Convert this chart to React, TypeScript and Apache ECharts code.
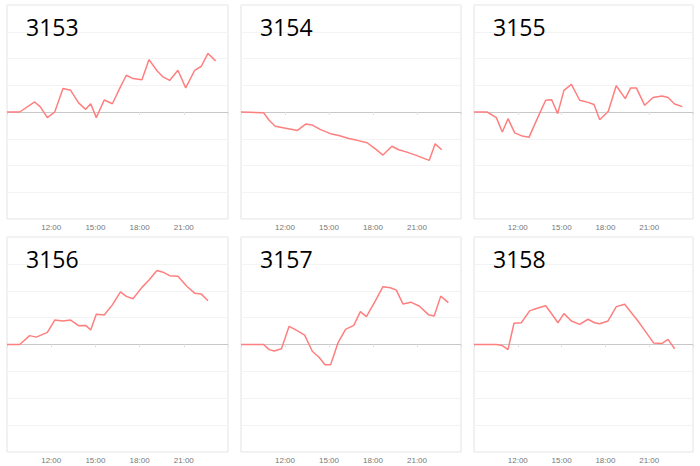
import React, { useEffect, useRef } from "react";
import * as echarts from "echarts";

const panelNames = ["3153", "3154", "3155", "3156", "3157", "3158"];

// hours since midnight for each reading, and the change values
const hours3153 = [9, 9.86, 10.88, 11.26, 11.74, 12.24, 12.8, 13.32, 13.86, 14.34, 14.68, 15.06, 15.6, 16.15, 16.7, 17.1, 17.55, 18.16, 18.64, 19.18, 19.59, 20.04, 20.6, 21.13, 21.74, 22.19, 22.64, 23.16];
const values3153 = [0, 0, 0.375, 0.19, -0.21, 0, 0.875, 0.81, 0.34, 0.1, 0.31, -0.21, 0.45, 0.31, 0.94, 1.375, 1.25, 1.21, 1.96, 1.54, 1.31, 1.18, 1.56, 0.9, 1.56, 1.71, 2.19, 1.91];

const hours3154 = [9, 10.54, 10.92, 11.33, 12.85, 13.41, 13.86, 14.43, 15.1, 15.67, 16.35, 16.92, 17.6, 18.16, 18.68, 19.29, 19.75, 20.31, 20.99, 21.83, 22.24, 22.69];
const values3154 = [0, -0.03, -0.31, -0.53, -0.69, -0.45, -0.49, -0.66, -0.81, -0.88, -0.99, -1.06, -1.15, -1.38, -1.61, -1.28, -1.41, -1.5, -1.63, -1.81, -1.19, -1.41];

const hours3155 = [9, 9.89, 10.53, 10.94, 11.33, 11.79, 12.31, 12.77, 13.38, 13.91, 14.32, 14.73, 15.16, 15.67, 16.24, 16.81, 17.22, 17.61, 18.2, 18.74, 19.36, 19.73, 20.12, 20.69, 21.26, 21.88, 22.29, 22.74, 23.27];
const values3155 = [0, 0, -0.21, -0.75, -0.25, -0.78, -0.9, -0.94, -0.19, 0.44, 0.46, -0.06, 0.81, 1.03, 0.44, 0.36, 0.28, -0.29, 0.03, 0.98, 0.5, 0.9, 0.9, 0.25, 0.54, 0.6, 0.54, 0.3, 0.2];

const hours3156 = [9, 9.86, 10.54, 10.99, 11.74, 12.24, 12.8, 13.32, 13.86, 14.34, 14.68, 15.06, 15.6, 16.15, 16.7, 17.1, 17.55, 18.16, 18.64, 19.18, 19.59, 20.04, 20.6, 21.22, 21.74, 22.19, 22.64];
const values3156 = [0, 0, 0.33, 0.275, 0.45, 0.91, 0.875, 0.91, 0.7, 0.71, 0.54, 1.125, 1.1, 1.475, 1.96, 1.79, 1.7, 2.125, 2.4, 2.75, 2.69, 2.56, 2.54, 2.16, 1.91, 1.875, 1.625];

const hours3157 = [9, 10.54, 10.92, 11.26, 11.76, 12.28, 12.8, 13.34, 13.86, 14.32, 14.73, 15.11, 15.61, 16.13, 16.69, 17.14, 17.55, 18.16, 18.68, 19.18, 19.59, 20.04, 20.58, 21.17, 21.78, 22.17, 22.62, 23.14];
const values3157 = [0, 0, -0.19, -0.24, -0.16, 0.675, 0.525, 0.35, -0.25, -0.475, -0.75, -0.75, 0.06, 0.56, 0.71, 1.225, 1.04, 1.625, 2.15, 2.11, 2.025, 1.51, 1.575, 1.425, 1.11, 1.06, 1.8, 1.56];

const hours3158 = [9, 10.53, 10.94, 11.33, 11.74, 12.24, 12.81, 13.32, 13.91, 14.34, 14.75, 15.16, 15.67, 16.24, 16.81, 17.26, 17.61, 18.18, 18.75, 19.32, 19.71, 20.23, 20.8, 21.3, 21.88, 22.29, 22.74];
const values3158 = [0, 0, -0.04, -0.19, 0.79, 0.81, 1.25, 1.35, 1.44, 1.125, 0.81, 1.15, 0.875, 0.75, 0.94, 0.81, 0.775, 0.875, 1.41, 1.5, 1.225, 0.875, 0.44, 0.06, 0.04, 0.19, -0.16];

const allHours = [hours3153, hours3154, hours3155, hours3156, hours3157, hours3158];
const allValues = [values3153, values3154, values3155, values3156, values3157, values3158];

const xTickHours = [12, 15, 18, 21];

const colLefts = [7, 241, 474];
const colWidths = [221, 220, 219];
const rowTops = [5, 237];
const rowHeights = [214, 215];

export default function App() {
  const ref = useRef<HTMLDivElement>(null);
  useEffect(() => {
    document.body.style.margin = "0";
    const chart = echarts.init(ref.current!, undefined, { renderer: "svg" });
    const grids: any[] = [];
    const xAxes: any[] = [];
    const yAxes: any[] = [];
    const series: any[] = [];
    const titles: any[] = [];
    const splitColors = ["#f3f3f3", "#f3f3f3", "#f3f3f3", "#f3f3f3", "#c8c8c8", "#f3f3f3", "#f3f3f3", "#f3f3f3", "#f3f3f3"];
    panelNames.forEach((name, i) => {
      const c = i % 3;
      const r = Math.floor(i / 3);
      grids.push({
        left: colLefts[c],
        top: rowTops[r],
        width: colWidths[c],
        height: rowHeights[r],
        show: true,
        borderColor: "#e3e3e3",
        borderWidth: 1,
        backgroundColor: "#ffffff",
      });
      xAxes.push({
        type: "value",
        gridIndex: i,
        min: 9,
        max: 24,
        interval: 3,
        axisLine: { show: false },
        axisTick: { show: true, length: 3, lineStyle: { color: "#e3e3e3" } },
        splitLine: { show: false },
        axisLabel: {
          margin: 4,
          fontSize: 8,
          color: "#777",
          fontFamily: "Liberation Sans",
          formatter: (v: number) => (xTickHours.includes(v) ? `${v}:00` : ""),
        },
      });
      yAxes.push({
        type: "value",
        gridIndex: i,
        min: -4,
        max: 4,
        interval: 1,
        axisLine: { show: false },
        axisTick: { show: false },
        axisLabel: { show: false },
        splitLine: { show: true, lineStyle: { color: splitColors, width: 1 } },
      });
      series.push({
        type: "line",
        xAxisIndex: i,
        yAxisIndex: i,
        symbol: "none",
        lineStyle: { color: "#ff7f7f", width: 1.5 },
        data: allHours[i].map((h, k) => [h, allValues[i][k]]),
      });
      titles.push({
        text: name,
        left: colLefts[c] + 14,
        top: rowTops[r] + 5,
        textStyle: {
          fontSize: 23,
          fontWeight: "normal",
          color: "#000",
          fontFamily: "Open Sans",
        },
      });
    });
    chart.setOption({
      animation: false,
      backgroundColor: "#ffffff",
      title: titles,
      grid: grids,
      xAxis: xAxes,
      yAxis: yAxes,
      series,
    });
    return () => chart.dispose();
  }, []);
  return <div ref={ref} style={{ width: 700, height: 466 }} />;
}
